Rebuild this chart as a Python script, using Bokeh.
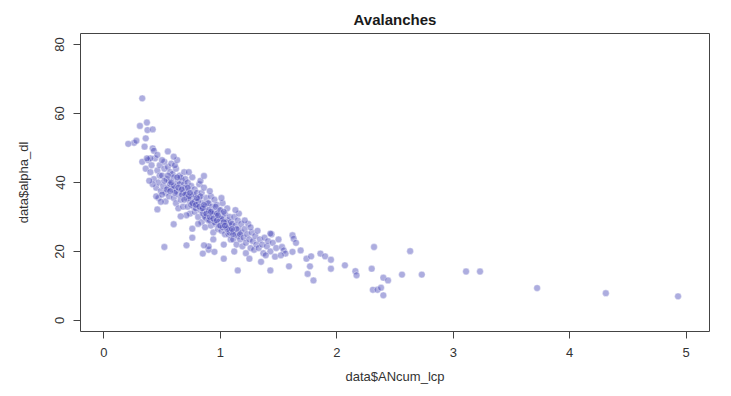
from bokeh.plotting import figure
from bokeh.models import FixedTicker, Range1d
from bokeh.embed import file_html
from bokeh.resources import INLINE

TITLE = "Avalanches"
X_LABEL = "data$ANcum_lcp"
Y_LABEL = "data$alpha_dl"
X_TICKS = [0, 1, 2, 3, 4, 5]
Y_TICKS = [0, 20, 40, 60, 80]

# sparse / isolated points
x_sparse = [0.33, 0.31, 0.37, 0.375, 0.42, 0.26, 0.28, 0.36, 0.35, 0.42, 0.43, 0.40, 0.46, 0.50, 0.55, 0.60, 0.86, 0.21,
            0.46, 0.49, 0.60, 0.66, 0.76, 0.76, 0.52, 0.71, 0.37, 0.85, 0.90, 0.90,
            1.43, 1.03, 1.25, 1.15, 1.43, 0.86, 0.95, 1.39,
            1.62, 1.63, 1.65, 1.53, 1.545, 1.56, 1.52, 1.62, 1.69, 1.59, 1.74, 1.78, 1.77, 1.75, 1.80,
            1.86, 1.90, 1.95, 1.95, 2.07, 2.16, 2.17, 2.32, 2.30, 2.40, 2.44, 2.31, 2.35, 2.38, 2.40,
            2.63, 3.11, 3.23, 3.72, 4.31, 4.93, 2.56, 2.73]
y_sparse = [64.4, 56.4, 57.4, 55.2, 55.4, 51.5, 52.1, 52.8, 50.4, 49.9, 49.2, 47.0, 48.0, 46.5, 49.0, 47.5, 41.9, 51.2,
            32.2, 34.4, 27.9, 30.2, 26.6, 24.0, 21.3, 21.8, 47.0, 19.4, 20.5, 21.5,
            25.2, 17.9, 17.9, 14.5, 14.5, 21.8, 19.9, 18.9,
            24.7, 23.7, 22.5, 21.3, 20.3, 19.4, 18.9, 19.9, 20.3, 15.7, 17.9, 18.6, 15.7, 13.5, 11.6,
            19.4, 18.6, 17.6, 15.0, 16.0, 14.3, 13.1, 21.3, 15.0, 12.4, 11.6, 8.9, 8.9, 9.5, 7.3,
            20.1, 14.2, 14.2, 9.4, 7.9, 7.0, 13.3, 13.3]

# dense band
x_band = [0.33, 0.36, 0.38, 0.40, 0.41, 0.43, 0.44, 0.45, 0.46, 0.47, 0.48, 0.49, 0.47, 0.45, 0.42, 0.39, 0.48,
          0.50, 0.51, 0.52, 0.53, 0.54, 0.55, 0.52, 0.55, 0.50, 0.53, 0.56, 0.57, 0.56, 0.58, 0.58, 0.57, 0.59,
          0.60, 0.61, 0.60, 0.62, 0.63, 0.62, 0.64, 0.65, 0.64, 0.66, 0.66, 0.67, 0.61, 0.68, 0.69, 0.68, 0.63, 0.62, 0.65, 0.67, 0.69, 0.60, 0.66,
          0.70, 0.71, 0.70, 0.72, 0.73, 0.72, 0.74, 0.75, 0.74, 0.76, 0.76, 0.77, 0.71, 0.78, 0.78, 0.73, 0.79, 0.71, 0.73, 0.75, 0.77, 0.79, 0.72, 0.78,
          0.80, 0.80, 0.81, 0.82, 0.82, 0.83, 0.84, 0.84, 0.85, 0.86, 0.86, 0.87, 0.87, 0.88, 0.88, 0.89, 0.81, 0.83, 0.81, 0.83, 0.85, 0.87, 0.89, 0.84,
          0.90, 0.90, 0.91, 0.92, 0.92, 0.93, 0.93, 0.94, 0.95, 0.95, 0.96, 0.96, 0.97, 0.98, 0.98, 0.99, 0.91, 0.94, 0.91, 0.93, 0.95, 0.97, 0.99, 0.90, 0.96,
          1.00, 1.00, 1.01, 1.02, 1.02, 1.03, 1.04, 1.04, 1.05, 1.06, 1.06, 1.07, 1.08, 1.08, 1.09, 1.09, 1.01, 1.03, 1.01, 1.03, 1.05, 1.07, 1.09, 1.02, 1.08,
          1.10, 1.11, 1.11, 1.12, 1.13, 1.13, 1.14, 1.15, 1.15, 1.16, 1.17, 1.18, 1.18, 1.19, 1.12, 1.16, 1.11, 1.14, 1.17, 1.13,
          1.20, 1.21, 1.22, 1.23, 1.24, 1.25, 1.26, 1.27, 1.28, 1.29, 1.30, 1.31, 1.22, 1.26, 1.32, 1.33, 1.34, 1.21,
          1.36, 1.37, 1.38, 1.40, 1.41, 1.43, 1.45, 1.47, 1.48, 1.50, 1.35, 1.44]
y_band = [46.0, 44.0, 46.5, 43.0, 45.0, 41.0, 47.0, 38.5, 43.5, 40.0, 45.0, 37.5, 35.5, 36.0, 39.5, 40.5, 42.0,
          42.0, 39.0, 44.0, 37.0, 41.0, 38.5, 46.0, 44.5, 36.5, 34.5, 40.5, 43.0, 36.0, 38.0, 45.5, 39.5, 42.5,
          41.5, 38.5, 35.5, 44.0, 40.0, 34.0, 36.5, 42.0, 32.5, 38.0, 35.0, 40.5, 45.0, 37.0, 43.0, 33.0, 46.5, 37.5, 39.5, 36.5, 39.5, 39.0, 41.5,
          38.5, 35.5, 41.0, 33.0, 37.5, 40.0, 34.5, 39.0, 31.0, 36.0, 41.5, 33.0, 30.5, 38.0, 31.5, 43.0, 35.0, 37.0, 35.5, 33.5, 36.5, 32.5, 38.5, 34.5,
          37.0, 33.5, 30.0, 39.5, 35.5, 32.0, 28.5, 37.0, 34.0, 30.5, 38.5, 27.0, 33.0, 35.5, 29.5, 31.5, 28.0, 40.5, 34.5, 36.0, 31.0, 30.0, 34.0, 32.5,
          34.0, 29.0, 31.5, 36.0, 27.5, 33.0, 30.0, 25.5, 31.5, 35.0, 28.0, 30.5, 33.5, 26.5, 29.5, 32.0, 37.5, 23.5, 29.0, 31.0, 28.5, 31.0, 27.5, 32.0, 33.0,
          29.0, 32.0, 26.0, 34.0, 30.0, 27.5, 25.0, 31.0, 27.0, 29.0, 32.5, 25.0, 27.5, 30.0, 23.5, 26.0, 35.5, 22.0, 29.5, 31.5, 28.5, 27.0, 28.5, 27.0, 25.5,
          28.0, 26.0, 23.5, 30.0, 25.0, 27.5, 22.0, 24.5, 29.0, 26.5, 23.5, 25.5, 28.0, 21.5, 20.0, 31.0, 25.0, 26.5, 25.0, 32.0,
          24.0, 26.5, 22.5, 25.0, 28.0, 23.5, 21.0, 25.5, 23.0, 20.5, 24.5, 22.0, 19.5, 27.0, 26.0, 21.0, 23.5, 29.0,
          22.0, 19.5, 24.0, 21.5, 23.0, 20.0, 22.5, 18.5, 21.0, 23.5, 17.0, 25.0]

# extra overlapping points in the darkest core
x_core = [0.52, 0.55, 0.58, 0.61, 0.64, 0.67, 0.70, 0.73, 0.76, 0.79, 0.82, 0.85, 0.88, 0.91, 0.94, 0.97, 1.00, 1.03, 1.06,
          0.54, 0.57, 0.63, 0.69, 0.74, 0.80, 0.86, 0.92, 0.98, 1.04, 1.10]
y_core = [40.5, 42.0, 40.0, 37.0, 38.5, 38.0, 36.5, 36.0, 34.0, 33.5, 33.0, 32.5, 31.0, 30.0, 29.5, 29.0, 27.5, 28.5, 26.5,
          38.0, 37.5, 41.5, 35.0, 37.0, 35.5, 33.5, 31.5, 30.5, 27.5, 26.5]

FONT = "Liberation Sans"

p = figure(width=723, height=388, output_backend="svg", toolbar_location=None,
           x_range=Range1d(-0.2, 5.2), y_range=Range1d(-3.2, 83.2),
           min_border_left=80, min_border_right=14, min_border_top=33, min_border_bottom=57,
           title=TITLE)

p.title.align = "center"
p.title.text_font = FONT
p.title.text_font_size = "15px"
p.title.text_font_style = "bold"
p.title.text_color = "#1a1a1a"
p.title.standoff = 11

p.xgrid.visible = False
p.ygrid.visible = False
p.outline_line_color = "#444444"
p.outline_line_width = 1
p.background_fill_color = "white"
p.border_fill_color = "white"

for ax in (p.xaxis[0], p.yaxis[0]):
    ax.axis_line_color = None
    ax.major_tick_line_color = "#444444"
    ax.major_tick_out = 7
    ax.major_tick_in = 0
    ax.minor_tick_line_color = None
    ax.major_label_text_font = FONT
    ax.major_label_text_font_size = "13px"
    ax.major_label_text_color = "#333333"
    ax.axis_label_text_font = FONT
    ax.axis_label_text_font_size = "13px"
    ax.axis_label_text_font_style = "normal"
    ax.axis_label_text_color = "#333333"

p.xaxis.ticker = FixedTicker(ticks=X_TICKS)
p.yaxis.ticker = FixedTicker(ticks=Y_TICKS)
p.xaxis.axis_label = X_LABEL
p.yaxis.axis_label = Y_LABEL
p.yaxis.major_label_orientation = "vertical"
p.xaxis.major_label_standoff = 9
p.yaxis.major_label_standoff = 9
p.xaxis.axis_label_standoff = 9
p.yaxis.axis_label_standoff = 22

p.scatter(x_band + x_core + x_sparse, y_band + y_core + y_sparse, size=6.8, marker="circle",
          fill_color="#4a4ab8", fill_alpha=0.45, line_color="white", line_alpha=0.5, line_width=0.8)

file = open("out.html", "w")
file.write(file_html(p, INLINE))
file.close()
